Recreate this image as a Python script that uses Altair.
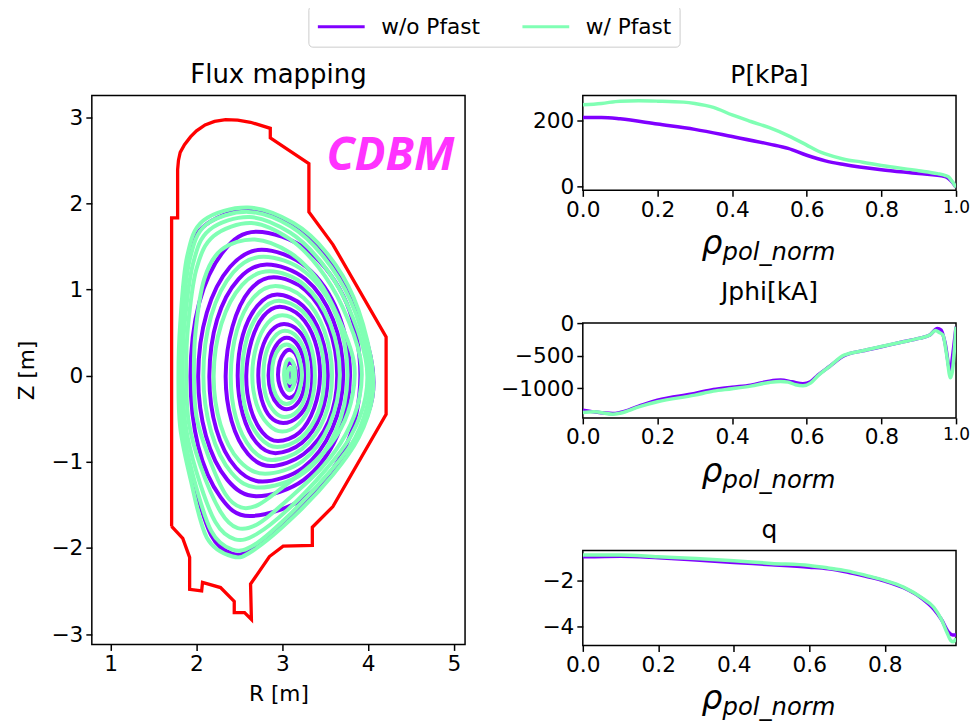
import altair as alt
import pandas as pd

C_NO = "w/o Pfast"
C_YES = "w/ Pfast"
PURPLE = "#8000ff"
GREEN = "#80ffb4"
RED = "#ff0000"
MAGENTA = "#ff33ff"

WALL = [(1.71,-1.75),(1.84,-1.89),(1.92,-2.11),(1.92,-2.48),(2.06,-2.50),(2.07,-2.40),(2.28,-2.46),(2.44,-2.62),
        (2.44,-2.75),(2.56,-2.75),(2.64,-2.83),(2.63,-2.42),(2.85,-2.10),(3.01,-1.98),(3.35,-1.97),(3.35,-1.76),
        (3.59,-1.52),(4.21,-0.45),(4.21,0.45),(3.59,1.52),(3.31,1.90),(3.31,2.46),(2.86,2.76),(2.86,2.87),
        (2.63,2.94),(2.48,2.965),(2.34,2.97),(2.21,2.95),(2.10,2.91),(2.00,2.84),(1.93,2.77),(1.86,2.68),(1.81,2.59),(1.79,2.50),(1.78,2.39),(1.78,1.83),(1.71,1.83),(1.71,-1.75)]

SURF_NO = [
 [(1.81,0),(1.83,.60),(1.90,1.30),(2.07,1.72),(2.60,1.93),(3.11,1.76),(3.50,1.40),(3.80,.90),(4.03,.22),(4.05,-.25),(3.88,-.70),(3.57,-1.13),(3.11,-1.62),(2.66,-2.00),(2.42,-2.07),(2.17,-1.85),(1.95,-1.18),(1.82,-.59)],
 [(1.93,0),(2.03,.84),(2.32,1.45),(2.70,1.67),(3.30,1.45),(3.75,.84),(3.91,0),(3.74,-.82),(3.27,-1.41),(2.62,-1.63),(2.28,-1.41),(2.02,-.82)],
 [(2.02,0),(2.12,.73),(2.39,1.26),(2.76,1.46),(3.28,1.26),(3.65,.73),(3.79,0),(3.64,-.70),(3.25,-1.21),(2.70,-1.40),(2.36,-1.21),(2.11,-.70)],
 [(2.15,0),(2.24,.65),(2.49,1.12),(2.82,1.29),(3.27,1.12),(3.59,.65),(3.71,0),(3.58,-.62),(3.24,-1.07),(2.77,-1.23),(2.46,-1.07),(2.23,-.62)],
 [(2.34,0),(2.42,.57),(2.62,.99),(2.90,1.14),(3.27,.99),(3.54,.57),(3.64,0),(3.54,-.53),(3.25,-.91),(2.86,-1.05),(2.60,-.91),(2.41,-.53)],
 [(2.48,0),(2.54,.47),(2.71,.81),(2.94,.94),(3.24,.81),(3.45,.47),(3.53,0),(3.45,-.45),(3.23,-.78),(2.92,-.90),(2.70,-.78),(2.54,-.45)],
 [(2.58,0),(2.64,.40),(2.78,.69),(2.97,.80),(3.21,.69),(3.38,.40),(3.44,0),(3.37,-.38),(3.20,-.66),(2.95,-.76),(2.77,-.66),(2.63,-.38)],
 [(2.72,0),(2.76,.30),(2.87,.52),(3.02,.60),(3.19,.52),(3.31,.30),(3.35,0),(3.31,-.28),(3.18,-.48),(3.01,-.55),(2.86,-.48),(2.76,-.28)],
 [(2.84,0),(2.87,.22),(2.95,.38),(3.05,.44),(3.16,.38),(3.24,.22),(3.27,0),(3.24,-.20),(3.16,-.34),(3.05,-.39),(2.95,-.34),(2.87,-.20)],
 [(2.95,.01),(2.97,.16),(3.02,.26),(3.08,.30),(3.15,.26),(3.19,.16),(3.21,.01),(3.19,-.12),(3.15,-.22),(3.08,-.26),(3.02,-.22),(2.97,-.12)],
 [(3.03,.01),(3.05,.11),(3.09,.15),(3.14,.11),(3.16,.01),(3.14,-.09),(3.09,-.13),(3.05,-.09)],
 [(3.07,.01),(3.08,.04),(3.09,.05),(3.11,.04),(3.12,.01),(3.11,-.03),(3.09,-.04),(3.08,-.03)],
]

SURF_YES = [
 [(1.79,0),(1.81,.60),(1.89,1.38),(2.08,1.80),(2.60,1.95),(3.13,1.77),(3.52,1.42),(3.83,.91),(4.03,.22),(4.05,-.25),(3.89,-.72),(3.59,-1.15),(3.13,-1.64),(2.66,-2.03),(2.42,-2.10),(2.12,-1.88),(1.93,-1.20),(1.81,-.60)],
 [(1.81,0),(1.83,.60),(1.92,1.34),(2.11,1.75),(2.60,1.90),(3.10,1.73),(3.48,1.38),(3.79,.88),(4.00,.22),(4.01,-.25),(3.85,-.72),(3.55,-1.12),(3.10,-1.60),(2.68,-1.96),(2.42,-2.02),(2.17,-1.80),(1.96,-1.16),(1.84,-.58)],
 [(1.84,0),(1.86,.58),(1.96,1.30),(2.15,1.69),(2.62,1.84),(3.09,1.66),(3.45,1.32),(3.75,.84),(3.97,.20),(3.97,-.25),(3.80,-.70),(3.50,-1.10),(3.07,-1.55),(2.70,-1.84),(2.45,-1.90),(2.22,-1.70),(2.00,-1.12),(1.87,-.56)],
 [(1.88,0),(1.90,.56),(2.00,1.24),(2.20,1.62),(2.64,1.77),(3.08,1.59),(3.42,1.26),(3.70,.80),(3.91,.20),(3.90,-.25),(3.74,-.68),(3.45,-1.08),(3.04,-1.46),(2.72,-1.72),(2.48,-1.77),(2.28,-1.58),(2.05,-1.06),(1.91,-.54)],
 [(1.97,0),(1.99,.52),(2.09,1.12),(2.29,1.46),(2.68,1.58),(3.10,1.42),(3.42,1.10),(3.65,.68),(3.83,.18),(3.82,-.22),(3.68,-.62),(3.40,-.98),(3.00,-1.30),(2.72,-1.50),(2.52,-1.53),(2.34,-1.38),(2.14,-.94),(2.00,-.48)],
 [(2.08,0),(2.17,.69),(2.43,1.20),(2.78,1.38),(3.27,1.20),(3.63,.69),(3.76,0),(3.62,-.65),(3.25,-1.13),(2.73,-1.30),(2.41,-1.13),(2.17,-.65)],
 [(2.20,0),(2.29,.60),(2.53,1.05),(2.85,1.21),(3.26,1.05),(3.56,.60),(3.67,0),(3.55,-.57),(3.24,-.99),(2.80,-1.14),(2.50,-.99),(2.28,-.57)],
 [(2.40,0),(2.47,.52),(2.66,.90),(2.92,1.04),(3.25,.90),(3.49,.52),(3.58,0),(3.49,-.49),(3.23,-.85),(2.88,-.98),(2.64,-.85),(2.46,-.49)],
 [(2.53,0),(2.59,.44),(2.75,.75),(2.96,.87),(3.23,.75),(3.42,.44),(3.49,0),(3.42,-.42),(3.22,-.72),(2.94,-.83),(2.74,-.72),(2.58,-.42)],
 [(2.65,0),(2.70,.35),(2.83,.61),(3.0,.70),(3.19,.61),(3.33,.35),(3.38,0),(3.33,-.33),(3.19,-.56),(3.0,-.65),(2.83,-.56),(2.70,-.33)],
 [(2.78,0),(2.81,.26),(2.91,.45),(3.03,.52),(3.17,.45),(3.27,.26),(3.30,0),(3.27,-.24),(3.17,-.42),(3.03,-.48),(2.91,-.42),(2.81,-.24)],
 [(2.88,.01),(2.90,.19),(2.96,.31),(3.05,.36),(3.14,.31),(3.20,.19),(3.23,.01),(3.20,-.16),(3.14,-.28),(3.05,-.33),(2.96,-.28),(2.90,-.16)],
 [(3.02,.01),(3.04,.14),(3.08,.19),(3.13,.14),(3.15,.01),(3.13,-.12),(3.08,-.17),(3.04,-.12)],
 [(3.06,.01),(3.07,.07),(3.09,.09),(3.11,.07),(3.12,.01),(3.11,-.06),(3.09,-.08),(3.07,-.06)],
]

P_NO = [(0,209),(.05,209),(.1,205),(.2,189),(.3,173),(.4,151),(.5,128),(.55,115),(.6,94),(.65,77),(.7,66),(.8,50),(.9,38),(.97,29),(.98,23),(.99,12),(1,-4)]
P_YES = [(0,248),(.05,252),(.1,259),(.15,260),(.2,259),(.27,256),(.3,252),(.35,240),(.4,217),(.45,197),(.5,178),(.55,154),(.6,125),(.63,107),(.65,98),(.7,82),(.75,73),(.8,63),(.9,47),(.95,38),(.97,33),(.98,28),(.99,14),(1,-4)]
J_NO = [(0,-1340),(.03,-1366),(.08,-1392),(.1,-1376),(.15,-1278),(.2,-1186),(.3,-1082),(.35,-1021),(.4,-985),(.45,-954),(.5,-892),(.53,-876),(.56,-902),(.59,-933),(.61,-902),(.63,-799),(.66,-670),(.7,-500),(.75,-423),(.8,-361),(.85,-294),(.9,-232),(.93,-180),(.95,-77),(.96,-103),(.97,-283),(.985,-747),(.99,-541),(1,-52)]
J_YES = [(0,-1376),(.03,-1366),(.08,-1402),(.1,-1387),(.15,-1289),(.2,-1211),(.3,-1108),(.35,-1046),(.4,-1010),(.45,-969),(.5,-912),(.53,-897),(.55,-907),(.57,-948),(.59,-964),(.61,-923),(.63,-809),(.66,-670),(.7,-490),(.75,-423),(.8,-356),(.85,-294),(.9,-232),(.93,-180),(.945,-108),(.955,-139),(.965,-180),(.975,-490),(.985,-840),(.99,-747),(1,-52)]
Q_NO = [(0,-.93),(.1,-.90),(.2,-.97),(.3,-1.07),(.4,-1.18),(.5,-1.28),(.6,-1.39),(.65,-1.46),(.7,-1.60),(.75,-1.79),(.8,-2.0),(.85,-2.30),(.9,-2.79),(.93,-3.24),(.95,-3.69),(.97,-4.28),(.98,-4.39),(.989,-4.39)]
Q_YES = [(0,-.85),(.1,-.85),(.2,-.93),(.3,-1.0),(.4,-1.1),(.5,-1.22),(.6,-1.31),(.65,-1.42),(.7,-1.55),(.75,-1.75),(.8,-1.97),(.85,-2.27),(.9,-2.76),(.93,-3.16),(.95,-3.69),(.965,-4.28),(.975,-4.63),(.982,-4.69),(.989,-4.54)]

def surf_frame(surfs, name):
    rows = []
    for k, s in enumerate(surfs):
        for i, (r, z) in enumerate(s):
            rows.append({"R": r, "Z": z, "k": k, "i": i, "s": name})
    return pd.DataFrame(rows)

def prof_frame(pts, name):
    return pd.DataFrame({"x": [p[0] for p in pts], "y": [p[1] for p in pts], "i": range(len(pts)), "s": name})

color_legend = alt.Color("s:N", scale=alt.Scale(domain=[C_NO, C_YES], range=[PURPLE, GREEN]),
    legend=alt.Legend(title=None, orient="none", legendX=217, legendY=-90, direction="horizontal", columns=2,
                      symbolType="M-1,0H3.08", symbolSize=529, symbolStrokeWidth=3, labelFontSize=21.7, labelFont="DejaVu Sans",
                      labelColor="black", labelOffset=39, columnPadding=35, padding=8, strokeColor="#cccccc",
                      fillColor="white", cornerRadius=4))
color_plain = alt.Color("s:N", scale=alt.Scale(domain=[C_NO, C_YES], range=[PURPLE, GREEN]), legend=None)

R_ax = alt.X("R:Q", scale=alt.Scale(domain=[0.78, 5.13], nice=False, zero=False),
             axis=alt.Axis(values=[1,2,3,4,5], format="d", title="R [m]", titlePadding=8))
Z_ax = alt.Y("Z:Q", scale=alt.Scale(domain=[-3.12, 3.25], nice=False, zero=False),
             axis=alt.Axis(values=[-3,-2,-1,0,1,2,3], format="d", title="Z [m]", titlePadding=12))

def surf_layer(df):
    return alt.Chart(df).mark_line(interpolate="cardinal-closed", strokeWidth=4, clip=True).encode(
        x=R_ax, y=Z_ax, detail="k:N", order="i:Q", color=color_legend)

wall_df = pd.DataFrame({"R": [p[0] for p in WALL], "Z": [p[1] for p in WALL], "i": range(len(WALL))})
wall = alt.Chart(wall_df).mark_line(color=RED, strokeWidth=3.3).encode(x=R_ax, y=Z_ax, order="i:Q")
cdbm = alt.Chart(pd.DataFrame({"R": [4.26], "Z": [2.55], "t": ["CDBM"]})).mark_text(
    font="Open Sans", fontStyle="italic", fontWeight="bold", fontSize=46, color=MAGENTA).encode(x=R_ax, y=Z_ax, text="t:N")
flux_title = alt.Chart(pd.DataFrame({"t": ["Flux mapping"]})).mark_text(font="DejaVu Sans", fontSize=26, align="center",
    baseline="alphabetic", color="black").encode(x=alt.value(187), y=alt.value(-13), text="t:N")

left = alt.layer(surf_layer(surf_frame(SURF_NO, C_NO)), surf_layer(surf_frame(SURF_YES, C_YES)), wall, cdbm, flux_title).properties(
    width=374, height=550)

def panel(title, a, b, xdom, xvals, ydom, yvals):
    x = alt.X("x:Q", scale=alt.Scale(domain=xdom, nice=False, zero=False),
              axis=alt.Axis(values=xvals, format=".1f", title=None,
                            labelFontSize={"condition": {"test": "datum.value == 1", "value": 17}, "value": 21.7}))
    y = alt.Y("y:Q", scale=alt.Scale(domain=ydom, nice=False, zero=False),
              axis=alt.Axis(values=yvals, format="d", title=None))
    def ln(df):
        return alt.Chart(df).mark_line(strokeWidth=3.5, clip=True, interpolate="monotone").encode(x=x, y=y, order="i:Q", color=color_plain)
    rho = alt.Chart(pd.DataFrame({"t": ["ρ"]})).mark_text(font="DejaVu Sans", fontStyle="italic", fontSize=33,
            align="left", baseline="alphabetic", color="black").encode(x=alt.value(119), y=alt.value(159), text="t:N")
    sub = alt.Chart(pd.DataFrame({"t": ["pol_norm"]})).mark_text(font="DejaVu Sans", fontStyle="italic", fontSize=24.3,
            align="left", baseline="alphabetic", color="black").encode(x=alt.value(140), y=alt.value(165), text="t:N")
    return alt.layer(ln(prof_frame(a, C_NO)), ln(prof_frame(b, C_YES)), rho, sub).properties(width=374, height=95, title=title)

xv = [0, .2, .4, .6, .8, 1.0]
p1 = panel("P[kPa]", P_NO, P_YES, [0, 1], xv, [-13, 276], [0, 200])
p2 = panel("Jphi[kA]", J_NO, J_YES, [0, 1], xv, [-1460, 5], [-1000, -500, 0])
p3 = panel("q", Q_NO, Q_YES, [0, .989], xv[:-1], [-4.85, -.655], [-4, -2])

right = alt.vconcat(p1, p2, p3, spacing=133, bounds="flush")
chart = alt.hconcat(left, right, spacing=118, bounds="flush").resolve_scale(color="independent").properties(
    padding={"left": 8, "top": -5, "right": -1, "bottom": 0}
).configure_view(stroke="black", strokeWidth=1.5).configure_axis(
    grid=False, domain=False, tickColor="black", tickWidth=1.5, tickSize=6, labelFlush=False,
    labelFont="DejaVu Sans", labelFontSize=21.7, labelColor="black", labelPadding=3,
    titleFont="DejaVu Sans", titleFontSize=21.7, titleFontWeight="normal", titleColor="black"
).configure_title(font="DejaVu Sans", fontSize=25, fontWeight="normal", color="black", offset=8, anchor="middle")

chart.save("out.html", embed_options={"renderer": "svg", "actions": False})
